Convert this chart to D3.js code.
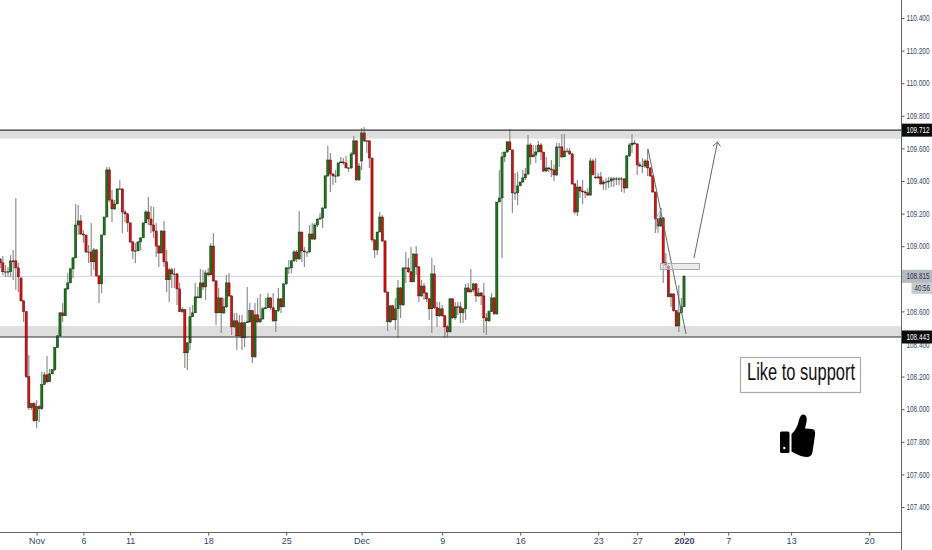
<!DOCTYPE html>
<html>
<head>
<meta charset="utf-8">
<script src="https://cdn.jsdelivr.net/npm/d3@7"></script>
<style>
body { margin: 0; background: #fff; }
text { font-family: "Liberation Sans", Arial, sans-serif; }
.narrow { font-family: "Liberation Sans Narrow", "Liberation Sans", Arial, sans-serif; }
</style>
</head>
<body>
<div id="main"></div>
<script>
const ctx = { w: 932, h: 550, right: 901.5, bottom: 532.5 };

// 4H candles, oldest first
const opens = [
108.921,108.898,108.843,108.843,108.843,108.910,108.910,108.867,108.805,108.665,
108.598,108.199,108.009,108.034,107.929,108.015,108.003,108.150,108.211,108.168,
108.217,108.242,108.377,108.450,108.591,108.573,108.738,108.775,108.861,108.928,
109.130,109.155,109.075,109.069,108.965,108.965,108.904,108.977,108.818,108.769,
109.069,109.179,109.468,109.284,109.229,109.259,109.351,109.351,109.210,109.198,
109.143,109.026,108.971,108.971,109.026,109.051,109.143,109.210,109.167,109.130,
109.093,109.001,108.958,109.093,108.904,108.794,108.855,108.830,108.830,108.738,
108.598,108.610,108.346,108.407,108.567,108.591,108.689,108.683,108.775,108.750,
108.836,108.824,109.001,108.787,108.591,108.683,108.591,108.628,108.775,108.695,
108.505,108.542,108.450,108.530,108.438,108.530,108.536,108.604,108.321,108.579,
108.536,108.554,108.616,108.622,108.683,108.622,108.542,108.604,108.677,108.628,
108.769,108.867,108.867,108.910,108.965,108.922,109.087,108.971,108.965,108.965,
109.075,109.044,109.130,109.167,109.173,109.234,109.431,109.529,109.443,109.431,
109.431,109.511,109.517,109.511,109.480,109.480,109.566,109.646,109.407,109.523,
109.695,109.646,109.646,109.541,109.039,108.977,109.087,109.179,109.032,108.719,
108.536,108.634,108.548,108.616,108.744,108.640,108.867,108.867,108.843,108.781,
108.952,108.873,108.695,108.756,108.713,108.677,108.616,108.830,108.622,108.573,
108.616,108.573,108.505,108.474,108.677,108.560,108.628,108.628,108.591,108.616,
108.744,108.719,108.732,108.769,108.695,108.713,108.695,108.560,108.542,108.598,
108.683,108.585,109.271,109.296,109.548,109.578,109.640,109.591,109.327,109.327,
109.370,109.394,109.419,109.443,109.621,109.548,109.560,109.578,109.621,109.578,
109.461,109.480,109.474,109.468,109.437,109.609,109.609,109.548,109.584,109.584,
109.566,109.382,109.210,109.363,109.339,109.333,109.327,109.314,109.523,109.424,
109.419,109.425,109.382,109.394,109.394,109.400,109.413,109.413,109.413,109.413,
109.413,109.357,109.554,109.621,109.633,109.627,109.499,109.492,109.492,109.523,
109.480,109.431,109.333,109.167,109.124,109.173,108.898,108.878,108.689,108.707,
108.604,108.511,108.591,108.628];
const highs = [
108.928,108.940,108.885,108.872,108.946,108.977,109.296,108.897,108.811,108.670,
108.602,108.333,108.038,108.044,108.056,108.026,108.228,108.228,108.326,108.247,
108.247,108.382,108.455,108.596,108.652,108.744,108.836,108.866,108.934,109.259,
109.253,109.191,109.099,109.069,109.007,109.142,108.989,108.983,108.823,109.069,
109.179,109.486,109.486,109.345,109.283,109.357,109.406,109.357,109.222,109.204,
109.149,109.032,109.020,109.032,109.056,109.142,109.222,109.302,109.247,109.240,
109.142,109.007,109.099,109.155,108.977,108.866,108.866,108.866,108.836,108.774,
108.627,108.615,108.412,108.627,108.639,108.774,108.750,108.860,108.854,108.854,
108.866,109.020,109.081,108.793,108.744,108.682,108.682,108.823,108.836,108.701,
108.590,108.590,108.578,108.578,108.535,108.750,108.652,108.609,108.652,108.682,
108.707,108.627,108.682,108.713,108.688,108.713,108.609,108.744,108.682,108.774,
108.872,108.915,108.915,108.977,108.977,109.216,109.087,108.995,108.964,109.130,
109.142,109.142,109.167,109.204,109.240,109.437,109.615,109.572,109.449,109.468,
109.511,109.547,109.541,109.554,109.486,109.578,109.676,109.652,109.511,109.725,
109.731,109.652,109.652,109.541,109.044,109.087,109.210,109.191,109.038,108.719,
108.639,108.639,108.682,108.793,108.750,108.866,108.964,108.928,108.995,108.958,
109.001,108.878,108.793,108.774,108.719,108.682,108.928,108.885,108.658,108.658,
108.639,108.578,108.517,108.682,108.682,108.658,108.658,108.658,108.621,108.768,
108.774,108.860,108.774,108.774,108.744,108.719,108.774,108.590,108.609,108.713,
108.688,109.271,109.468,109.578,109.578,109.646,109.719,109.590,109.449,109.455,
109.394,109.468,109.480,109.682,109.633,109.621,109.621,109.646,109.633,109.578,
109.547,109.486,109.529,109.499,109.633,109.633,109.688,109.688,109.603,109.603,
109.572,109.388,109.406,109.369,109.406,109.345,109.357,109.541,109.535,109.541,
109.449,109.455,109.406,109.418,109.424,109.424,109.424,109.424,109.424,109.424,
109.418,109.560,109.633,109.688,109.652,109.633,109.517,109.541,109.535,109.596,
109.486,109.437,109.332,109.173,109.234,109.179,108.958,108.885,108.713,108.713,
108.609,108.762,108.682,108.823];
const lows = [
108.866,108.823,108.811,108.811,108.811,108.793,108.731,108.719,108.658,108.535,
108.191,107.995,107.995,107.922,107.885,107.922,107.995,108.155,108.161,108.210,
108.234,108.234,108.375,108.443,108.535,108.572,108.731,108.774,108.805,108.928,
109.069,109.069,109.020,108.958,108.897,108.817,108.854,108.811,108.652,108.713,
109.069,109.179,109.271,109.149,109.222,109.259,109.345,109.081,109.149,109.087,
109.020,108.921,108.897,108.971,108.977,109.050,109.142,109.130,109.081,109.050,
108.934,108.872,108.958,108.872,108.719,108.658,108.744,108.744,108.639,108.596,
108.590,108.253,108.241,108.363,108.566,108.590,108.682,108.682,108.731,108.670,
108.817,108.823,108.780,108.517,108.590,108.468,108.584,108.621,108.688,108.455,
108.498,108.363,108.443,108.363,108.382,108.529,108.529,108.283,108.314,108.529,
108.529,108.547,108.615,108.621,108.609,108.535,108.474,108.596,108.590,108.627,
108.762,108.829,108.836,108.903,108.903,108.915,108.903,108.872,108.934,108.958,
109.038,109.038,109.118,109.161,109.112,109.228,109.424,109.332,109.375,109.388,
109.424,109.511,109.499,109.480,109.455,109.474,109.560,109.400,109.400,109.468,
109.640,109.572,109.480,109.026,108.928,108.946,109.087,109.026,108.713,108.480,
108.529,108.547,108.486,108.437,108.559,108.633,108.774,108.836,108.780,108.780,
108.823,108.658,108.688,108.670,108.658,108.547,108.468,108.615,108.504,108.566,
108.566,108.437,108.443,108.474,108.553,108.547,108.578,108.529,108.529,108.547,
108.719,108.719,108.719,108.658,108.688,108.639,108.468,108.455,108.535,108.596,
108.578,108.578,109.271,108.928,109.517,109.572,109.590,109.204,109.283,109.253,
109.375,109.388,109.406,109.437,109.499,109.547,109.511,109.578,109.529,109.455,
109.455,109.455,109.424,109.400,109.431,109.486,109.541,109.547,109.572,109.560,
109.375,109.198,109.185,109.296,109.259,109.296,109.308,109.308,109.437,109.412,
109.412,109.375,109.345,109.345,109.357,109.363,109.363,109.375,109.375,109.332,
109.326,109.357,109.547,109.572,109.627,109.437,109.486,109.449,109.480,109.431,
109.424,109.326,109.081,109.081,109.118,108.774,108.860,108.688,108.627,108.596,
108.504,108.474,108.590,108.627];
const closes = [
108.898,108.843,108.843,108.843,108.910,108.904,108.867,108.812,108.665,108.598,
108.199,108.009,108.034,107.929,108.015,108.003,108.150,108.211,108.168,108.217,
108.242,108.377,108.450,108.591,108.573,108.738,108.775,108.861,108.928,109.130,
109.155,109.075,109.069,108.965,108.965,108.904,108.977,108.818,108.769,109.069,
109.179,109.468,109.284,109.229,109.259,109.351,109.351,109.210,109.198,109.143,
109.026,108.971,108.971,109.026,109.051,109.143,109.210,109.167,109.130,109.093,
109.001,108.958,109.093,108.904,108.794,108.855,108.830,108.830,108.738,108.598,
108.610,108.346,108.407,108.567,108.591,108.689,108.683,108.775,108.750,108.836,
108.824,109.001,108.787,108.591,108.683,108.591,108.628,108.775,108.695,108.505,
108.542,108.450,108.530,108.438,108.530,108.536,108.604,108.321,108.579,108.536,
108.554,108.616,108.622,108.683,108.622,108.542,108.604,108.677,108.628,108.769,
108.867,108.867,108.910,108.965,108.922,109.087,108.971,108.965,108.965,109.075,
109.044,109.130,109.167,109.173,109.234,109.431,109.529,109.443,109.431,109.431,
109.511,109.517,109.511,109.480,109.480,109.566,109.646,109.407,109.492,109.695,
109.646,109.646,109.541,109.039,108.977,109.087,109.179,109.032,108.719,108.536,
108.634,108.548,108.616,108.744,108.640,108.867,108.867,108.843,108.781,108.952,
108.873,108.695,108.756,108.713,108.677,108.616,108.830,108.622,108.573,108.616,
108.573,108.505,108.474,108.677,108.560,108.628,108.628,108.591,108.616,108.744,
108.719,108.732,108.769,108.695,108.713,108.695,108.560,108.542,108.598,108.683,
108.585,109.271,109.296,109.548,109.578,109.640,109.591,109.327,109.327,109.370,
109.394,109.419,109.443,109.621,109.548,109.560,109.578,109.621,109.578,109.461,
109.480,109.474,109.468,109.437,109.609,109.609,109.548,109.584,109.584,109.566,
109.382,109.210,109.363,109.339,109.333,109.327,109.314,109.523,109.437,109.419,
109.425,109.382,109.394,109.394,109.400,109.413,109.413,109.413,109.413,109.413,
109.357,109.554,109.621,109.633,109.627,109.499,109.492,109.492,109.523,109.480,
109.431,109.333,109.167,109.124,109.173,108.898,108.885,108.689,108.707,108.604,
108.511,108.591,108.628,108.815];

// 108.800 sits behind the last price label, so it is left out
const priceTicks = [110.4,110.2,110,109.8,109.6,109.4,109.2,109,108.6,108.2,108,107.8,107.6,107.4];
const timeTicks = [14,32,50,80,110,139,170,200,230,245,263,280,304.2,334.2];
const timeLabels = ["Nov","6","11","18","25","Dec","9","16","23","27","2020","7","13","20"];

const resistance = [109.66, 109.712];
const support = [108.443, 108.510];
const lastPrice = 108.815;
const countdown = "40:56";

function createCandles(svg, x, y) {
    let g = svg.append("g").attr("filter", "url(#soft)");

    g.selectAll(".wick")
        .data(closes)
        .enter().append("line")
        .attr("class", "wick")
        .attr("x1", (d, i) => x(i))
        .attr("x2", (d, i) => x(i))
        .attr("y1", (d, i) => y(highs[i]))
        .attr("y2", (d, i) => y(lows[i]))
        .style("stroke", "#8f8f8f")
        .style("stroke-width", 1.2);

    g.selectAll(".body")
        .data(closes)
        .enter().append("rect")
        .attr("class", "body")
        .attr("x", (d, i) => x(i) - 1.1)
        .attr("width", 2.2)
        .attr("y", (d, i) => Math.min(y(opens[i]), y(d)))
        .attr("height", (d, i) => Math.max(0.4, Math.abs(y(opens[i]) - y(d))))
        .style("fill", (d, i) => d >= opens[i] ? "#0a800a" : "#ff0000")
        .style("stroke", "#1a1a1a")
        .style("stroke-width", 0.45);
}

function createLevels(svg, y) {
    [resistance, support].forEach(z => {
        svg.append("rect")
            .attr("x", 0).attr("width", ctx.right)
            .attr("y", y(z[1])).attr("height", y(z[0]) - y(z[1]))
            .style("fill", "#dedede");
    });
    svg.append("line")
        .attr("x1", 0).attr("x2", ctx.right)
        .attr("y1", y(lastPrice)).attr("y2", y(lastPrice))
        .style("stroke", "#d2d2d2").style("stroke-width", 1);
}

function createLevelLines(svg, y) {
    [resistance[1], support[0]].forEach(p => {
        svg.append("line")
            .attr("x1", 0).attr("x2", ctx.right)
            .attr("y1", y(p)).attr("y2", y(p))
            .style("stroke", "#333").style("stroke-width", 1.1);
    });
}

function createDrawings(svg) {
    // trend line
    svg.append("line").attr("x1", 648).attr("y1", 149).attr("x2", 686).attr("y2", 334)
        .style("stroke", "#666").style("stroke-width", 1);
    // small wedge on the way down
    svg.append("path").attr("d", "M655,233L661.7,208L655,220")
        .style("fill", "none").style("stroke", "#8f8fb5").style("stroke-width", 0.7);
    // target box and arrow
    svg.append("rect").attr("x", 660.5).attr("y", 263.5).attr("width", 39).attr("height", 6)
        .style("fill", "#d8d8d8").style("fill-opacity", 0.55).style("stroke", "#aaa");
    svg.append("path").attr("d", "M694,258L717.5,142M713,146L717.5,142L720.5,146.5")
        .style("fill", "none").style("stroke", "#666").style("stroke-width", 1);

    svg.append("rect").attr("x", 740.5).attr("y", 357.5).attr("width", 120).attr("height", 35)
        .style("fill", "#fff").style("stroke", "#aaa").style("stroke-width", 1.2);
    svg.append("text").attr("class", "narrow").attr("x", 747).attr("y", 380)
        .attr("textLength", 108).attr("lengthAdjust", "spacingAndGlyphs")
        .style("font-size", "23px").style("fill", "#111")
        .text("Like to support");

    // thumbs up
    let thumb = svg.append("g");
    thumb.append("rect").attr("x", 780).attr("y", 431.5).attr("width", 9.5).attr("height", 21.5).attr("rx", 1.5).style("fill", "#000");
    thumb.append("circle").attr("cx", 784.3).attr("cy", 448).attr("r", 1.2).style("fill", "#fff");
    thumb.append("path")
        .attr("d", "M791.5,434C795,431 797.5,426 798.5,422C799.5,418 800.5,415 803,414.5C806,414.5 807.5,418 806.5,422L805,428.5L812,429C815,429.5 815.5,432 815,435L812.5,452C812,455.5 810,457 806.5,457C802,457 796,454 791.5,451.5Z")
        .style("fill", "#000");
}

function createAxes(svg, x, y) {
    let yAxis = d3.axisRight(y).tickValues(priceTicks).tickFormat(d3.format(".3f")).tickSize(3);
    let gy = svg.append("g").attr("transform", "translate(" + ctx.right + ",0)").call(yAxis);
    gy.select(".domain").remove();
    gy.selectAll("line").style("stroke", "#555");
    gy.selectAll("text")
        .attr("class", "narrow")
        .attr("x", 5)
        .attr("textLength", 23).attr("lengthAdjust", "spacingAndGlyphs")
        .style("font-family", null)
        .style("font-size", "8.5px").style("fill", "#3a3f63");
    gy.attr("font-family", null);

    let xAxis = d3.axisBottom(x).tickValues(timeTicks).tickFormat((d, i) => timeLabels[i]).tickSize(3);
    let gx = svg.append("g").attr("transform", "translate(0," + ctx.bottom + ")").call(xAxis);
    gx.select(".domain").remove();
    gx.selectAll("line").style("stroke", "#555");
    gx.selectAll("text")
        .attr("class", "narrow")
        .attr("y", 5)
        .style("font-size", "9px").style("fill", "#3a3f63")
        .style("font-weight", d => d === 263 ? "bold" : "normal");
    gx.attr("font-family", null);

    svg.append("line").attr("x1", 0).attr("x2", ctx.right).attr("y1", ctx.bottom).attr("y2", ctx.bottom)
        .style("stroke", "#666").style("stroke-width", 1.2);
    svg.append("line").attr("x1", ctx.right).attr("x2", ctx.right).attr("y1", 0).attr("y2", ctx.h)
        .style("stroke", "#666").style("stroke-width", 1);
}

function priceLabel(svg, y, value, fill, color) {
    let cy = y(value);
    svg.append("rect").attr("x", ctx.right + 0.5).attr("y", cy - 6.5).attr("width", 30).attr("height", 13).style("fill", fill);
    svg.append("text").attr("class", "narrow").attr("x", ctx.right + 5).attr("y", cy + 3)
        .attr("textLength", 23).attr("lengthAdjust", "spacingAndGlyphs")
        .style("font-size", "8.5px").style("fill", color)
        .text(value.toFixed(3));
}

function createViz() {
    let svg = d3.select("#main").append("svg").attr("width", ctx.w).attr("height", ctx.h).style("display", "block");
    svg.append("defs").append("filter").attr("id", "soft")
        .attr("x", 0).attr("y", 0).attr("width", 1).attr("height", 1)
        .append("feGaussianBlur").attr("stdDeviation", 0.3);

    let x = d3.scaleLinear().domain([0, closes.length - 1]).range([0.2, 684]);
    let y = d3.scaleLinear().domain([110.4, 107.4]).range([18, 507]);

    createLevels(svg, y);
    createCandles(svg, x, y);
    createLevelLines(svg, y);
    createDrawings(svg);
    createAxes(svg, x, y);

    // 108.400 is half hidden by the support label in the reference, drawn first so the label covers it
    svg.append("text").attr("class", "narrow").attr("x", ctx.right + 5).attr("y", y(108.4) + 4)
        .attr("textLength", 23).attr("lengthAdjust", "spacingAndGlyphs")
        .style("font-size", "8.5px").style("fill", "#3a3f63").text("108.400");

    priceLabel(svg, y, resistance[1], "#0a0a0a", "#fff");
    priceLabel(svg, y, support[0], "#0a0a0a", "#fff");
    priceLabel(svg, y, lastPrice, "#b8bac2", "#2a2e45");
    svg.append("rect").attr("x", 911.5).attr("y", y(lastPrice) + 6.5).attr("width", 20.5).attr("height", 11).style("fill", "#c9cacf");
    svg.append("text").attr("class", "narrow").attr("x", 914.5).attr("y", y(lastPrice) + 15)
        .attr("textLength", 15.5).attr("lengthAdjust", "spacingAndGlyphs")
        .style("font-size", "8.5px").style("fill", "#2a2e45")
        .text(countdown);
}

createViz();
</script>
</body>
</html>
